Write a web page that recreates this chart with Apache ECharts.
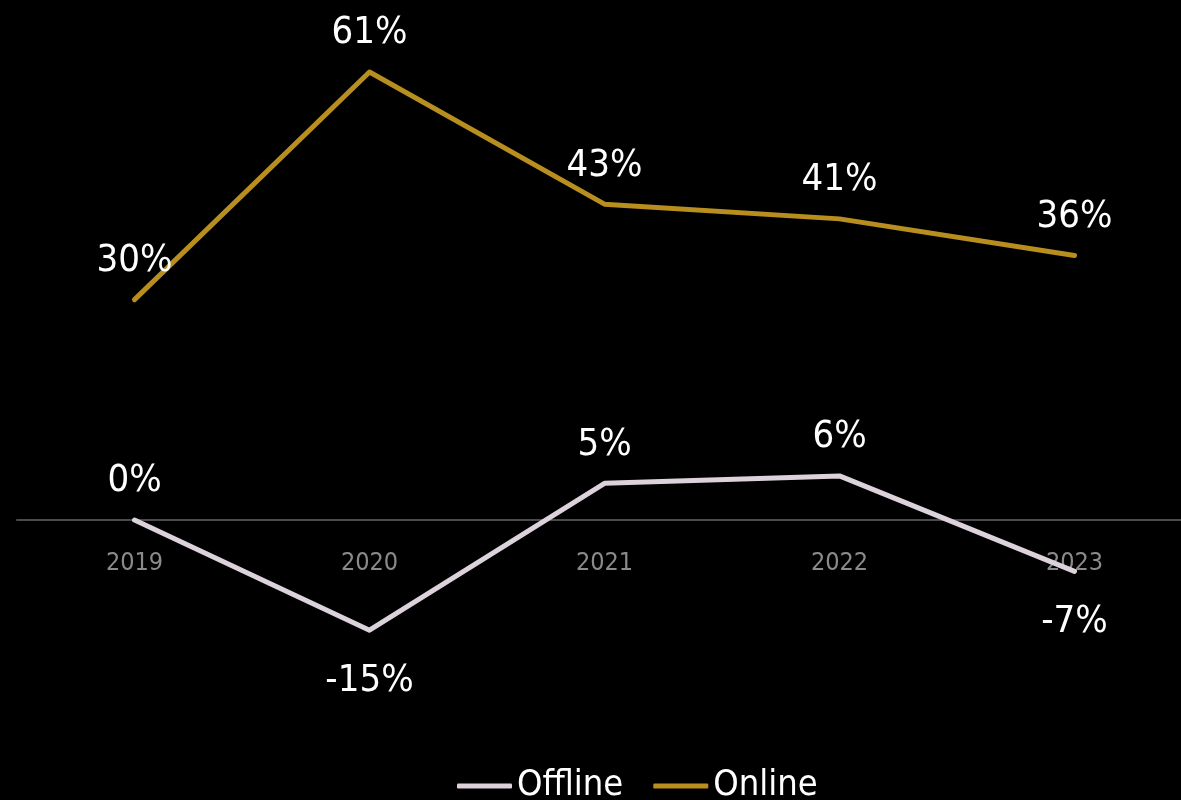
<!DOCTYPE html>
<html>
<head>
<meta charset="utf-8">
<script src="https://cdn.jsdelivr.net/npm/echarts@6/dist/echarts.min.js"></script>
<style>
  html, body { margin: 0; padding: 0; background: #000; }
  #chart { width: 1181px; height: 800px; }
</style>
</head>
<body>
<div id="chart"></div>
<script>
// Year-over-year growth by channel
const years = ['2019', '2020', '2021', '2022', '2023'];
const offlineGrowth = [0, -15, 5, 6, -7];
const onlineGrowth = [30, 61, 43, 41, 36];

const FONT = "'DejaVu Sans Condensed', 'DejaVu Sans', sans-serif";

// Negative values get their label under the point, others above it
function labelled(values) {
  return values.map(v => ({
    value: v,
    label: v < 0
      ? { position: 'bottom', distance: 31 }
      : { position: 'top', distance: 19 }
  }));
}

const chart = echarts.init(document.getElementById('chart'));
chart.setOption({
  backgroundColor: '#000000',
  animation: false,
  // the grid ends at the zero line; negative values are drawn below it (clip: false)
  grid: { left: 17, width: 1175, top: 42.6, bottom: 280, outerBoundsMode: 'none', containLabel: false },
  xAxis: {
    type: 'category',
    data: years,
    boundaryGap: true,
    axisLine: { lineStyle: { color: '#4a4a4a', width: 2 } },
    axisTick: { show: false },
    axisLabel: { color: '#8a8a8a', fontSize: 25, fontFamily: FONT, margin: 31 },
    z: 0
  },
  yAxis: {
    type: 'value',
    min: 0,
    max: 65,
    show: false,
    splitLine: { show: false }
  },
  legend: {
    bottom: -9,
    left: 452,
    itemWidth: 55,
    itemHeight: 5,
    itemGap: 30,
    icon: 'roundRect',
    textStyle: { color: '#ffffff', fontSize: 36, fontFamily: FONT },
    data: ['Offline', 'Online']
  },
  series: [
    {
      name: 'Offline',
      type: 'line',
      data: labelled(offlineGrowth),
      clip: false,
      color: '#dcd2dc',
      symbol: 'circle',
      symbolSize: 1,
      lineStyle: { width: 5, color: '#dcd2dc', cap: 'round', join: 'round' },
      label: {
        show: true,
        color: '#ffffff',
        fontSize: 38,
        fontFamily: FONT,
        formatter: p => p.value + '%'
      },
      z: 3
    },
    {
      name: 'Online',
      type: 'line',
      data: labelled(onlineGrowth),
      clip: false,
      color: '#b88f1e',
      symbol: 'circle',
      symbolSize: 1,
      lineStyle: { width: 5, color: '#b88f1e', cap: 'round', join: 'round' },
      label: {
        show: true,
        color: '#ffffff',
        fontSize: 38,
        fontFamily: FONT,
        formatter: p => p.value + '%'
      },
      z: 3
    }
  ]
});
</script>
</body>
</html>
